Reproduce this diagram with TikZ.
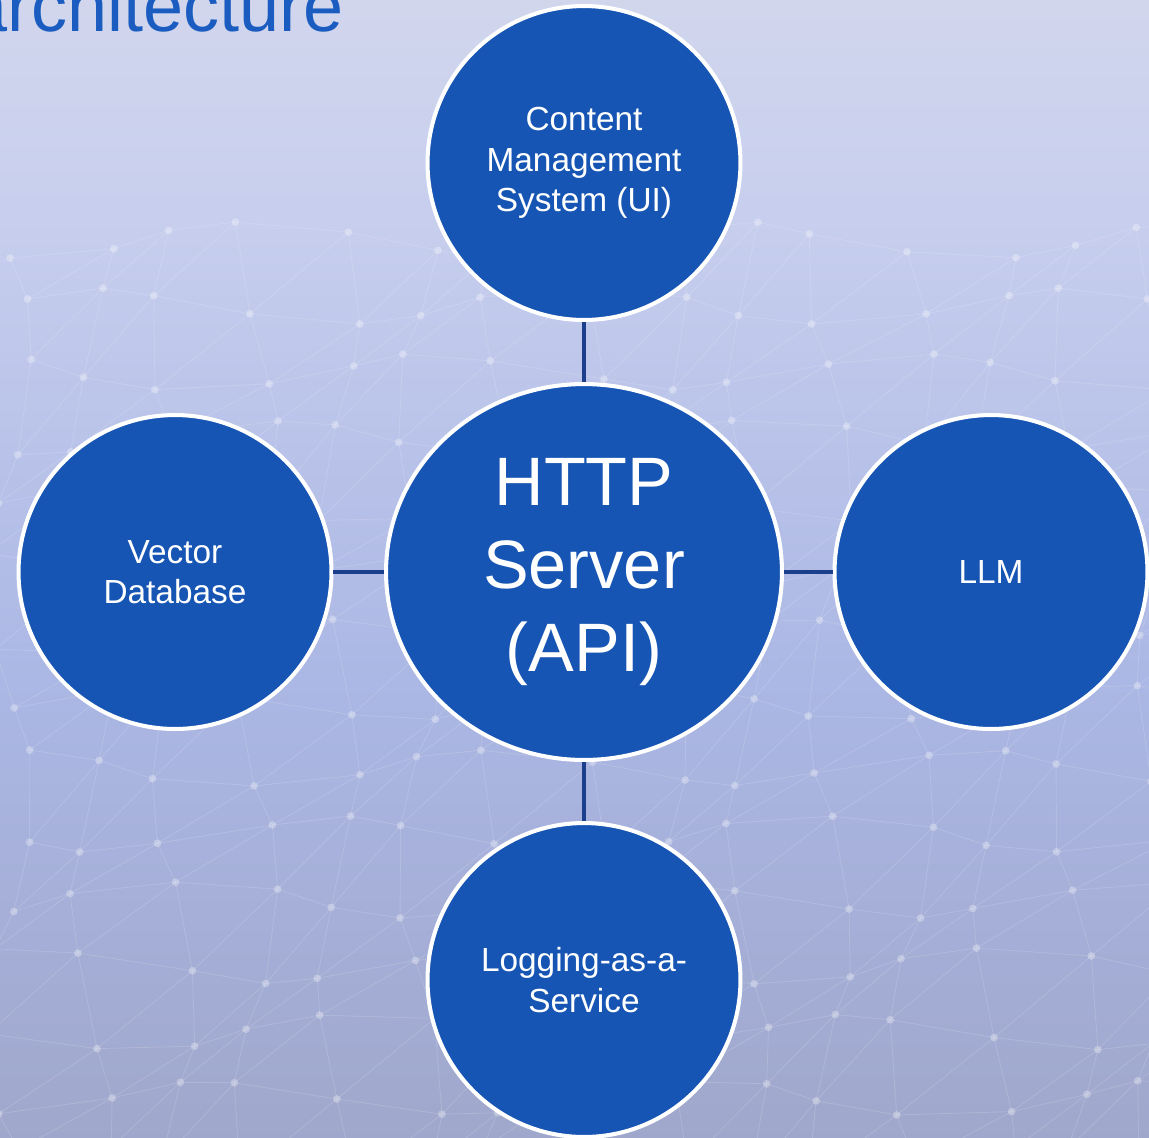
\documentclass[tikz,border=0pt]{standalone}
\usepackage{fontspec}
\setmainfont{Liberation Sans}
\usetikzlibrary{shapes.geometric}

\definecolor{bgtop}{HTML}{DCDFEB}
\definecolor{bghigh}{HTML}{C8CFEE}
\definecolor{bgmid}{HTML}{ABB7E4}
\definecolor{bglow}{HTML}{9EA5C8}
\definecolor{bgbot}{HTML}{8D8FA5}
\definecolor{nodeblue}{HTML}{1655B3}
\definecolor{linkblue}{HTML}{1B3F8C}
\definecolor{titleblue}{HTML}{1A5CBF}

\pgfdeclareverticalshading{backdrop}{100bp}{color(0bp)=(bgbot); color(22bp)=(bglow); color(45bp)=(bgmid); color(66bp)=(bghigh); color(86bp)=(bgtop); color(100bp)=(bgtop)}

\tikzset{
    service/.style={ellipse, fill=nodeblue, draw=white, line width=2.3pt, inner sep=0pt,
        minimum width=6.26cm, minimum height=6.28cm, text=white, align=center,
        font=\fontsize{19}{23}\selectfont},
    hub/.style={service, minimum width=7.92cm, minimum height=7.52cm,
        font=\fontsize{39}{47}\selectfont},
    link/.style={linkblue, line width=2.8pt}
}

\begin{document}
\begin{tikzpicture}[x=0.02cm, y=-0.02cm]
    \useasboundingbox (0,0) rectangle (1149,1137);
    \shade[shading=backdrop] (0,0) rectangle (1149,1137);
    % faint mesh behind the diagram
    \foreach \i in {0,...,14}
        \foreach \j in {0,...,13}{
            \pgfmathsetmacro\px{\i*82+10+22*sin(\i*97+\j*53)}
            \pgfmathsetmacro\py{240+\j*66+18*cos(\i*61+\j*113)}
            \pgfmathsetmacro\qx{(\i+1)*82+10+22*sin((\i+1)*97+\j*53)}
            \pgfmathsetmacro\qy{240+\j*66+18*cos((\i+1)*61+\j*113)}
            \pgfmathsetmacro\rx{\i*82+10+22*sin(\i*97+(\j+1)*53)}
            \pgfmathsetmacro\ry{240+(\j+1)*66+18*cos(\i*61+(\j+1)*113)}
            \draw[white, opacity=0.14, line width=0.5pt] (\qx,\qy) -- (\px,\py) -- (\rx,\ry) -- (\qx,\qy);
            \fill[white, opacity=0.3] (\px,\py) circle[radius=2.2pt];
        }
    \node[anchor=base east, text=titleblue, font=\fontsize{41}{41}\selectfont] (title) at (350,31) {architecture};

    \node[hub] (api) at (584,572) {HTTP\\Server\\(API)};
    \node[service] (cms) at (584,163) {Content\\Management\\System (UI)};
    \node[service] (vdb) at (175,572) {Vector\\Database};
    \node[service] (llm) at (991,572) {LLM};
    \node[service] (log) at (584,980) {Logging-as-a-\\Service};

    \draw[link] (cms) -- (api);
    \draw[link] (vdb) -- (api);
    \draw[link] (api) -- (llm);
    \draw[link] (api) -- (log);
\end{tikzpicture}
\end{document}
